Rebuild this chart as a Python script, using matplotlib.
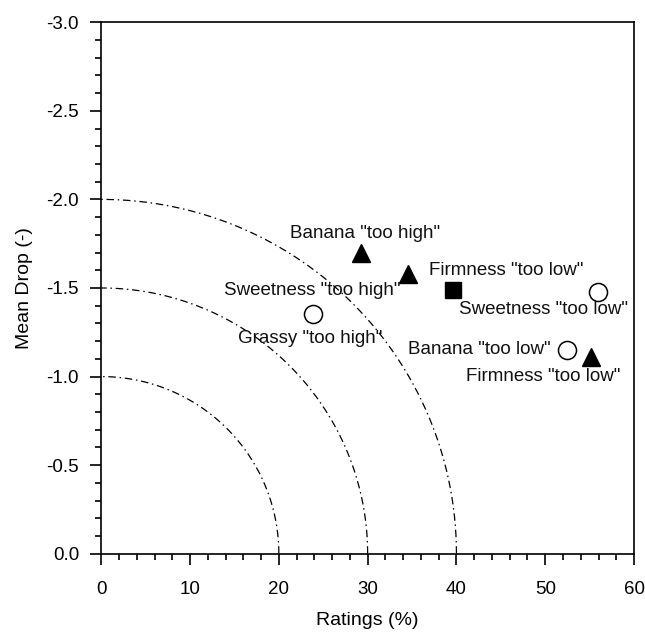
import numpy as np
import matplotlib
matplotlib.use("Agg")
import matplotlib.pyplot as plt
from matplotlib.ticker import MultipleLocator, FormatStrFormatter

plt.rcParams['font.family'] = ['Liberation Sans', 'DejaVu Sans']

# Data
tri_x = [29.3, 34.5, 55.2]
tri_y = [-1.70, -1.58, -1.11]
sq_x = [39.6]
sq_y = [-1.49]
circ_x = [23.8, 55.9, 52.5]
circ_y = [-1.355, -1.477, -1.148]

labels = ['Banana "too high"', 'Sweetness "too high"', 'Grassy "too high"',
          'Firmness "too low"', 'Sweetness "too low"', 'Banana "too low"',
          'Firmness "too low"']
label_x = [29.7, 23.8, 23.5, 45.6, 49.75, 42.6, 49.75]
label_y = [-1.81, -1.487, -1.214, -1.60, -1.378, -1.152, -0.998]

arc_rx = [20, 30, 40]
arc_ry = [1.0, 1.5, 2.0]

fig = plt.figure(figsize=(6.45, 6.35), dpi=100)
ax = fig.add_axes([0.157, 0.128, 0.826, 0.837])

t = np.linspace(0, np.pi / 2, 300)
for rx, ry in zip(arc_rx, arc_ry):
    ax.plot(rx * np.cos(t), -ry * np.sin(t), color='black', lw=0.9,
            linestyle=(0, (6, 3, 1.2, 3)))

ax.plot(tri_x, tri_y, linestyle='none', marker='^', ms=13, color='black')
ax.plot(sq_x, sq_y, linestyle='none', marker='s', ms=12, color='black')
ax.plot(circ_x, circ_y, linestyle='none', marker='o', ms=13,
        markerfacecolor='white', markeredgecolor='black', markeredgewidth=1.1)

for s, x, y in zip(labels, label_x, label_y):
    ax.text(x, y, s, ha='center', va='center', fontsize=13.5, color='#111111')

ax.set_xlim(0, 60)
ax.set_ylim(0, -3.0)
ax.xaxis.set_major_locator(MultipleLocator(10))
ax.xaxis.set_minor_locator(MultipleLocator(2))
ax.yaxis.set_major_locator(MultipleLocator(0.5))
ax.yaxis.set_minor_locator(MultipleLocator(0.1))
ax.yaxis.set_major_formatter(FormatStrFormatter('%.1f'))

ax.tick_params(axis='both', which='major', direction='out', length=8, width=1.2,
               labelsize=13.5, colors='black')
ax.tick_params(axis='both', which='minor', direction='out', length=4, width=1.2)
ax.tick_params(axis='x', which='major', pad=12)
ax.tick_params(axis='y', which='major', pad=8)
ax.tick_params(top=False, right=False, which='both')
for sp in ax.spines.values():
    sp.set_linewidth(1.2)
    sp.set_color('black')

ax.set_xlabel('Ratings (%)', fontsize=14, labelpad=10)
ax.set_ylabel('Mean Drop (-)', fontsize=14, labelpad=10)

fig.savefig('out.png', dpi=100)
